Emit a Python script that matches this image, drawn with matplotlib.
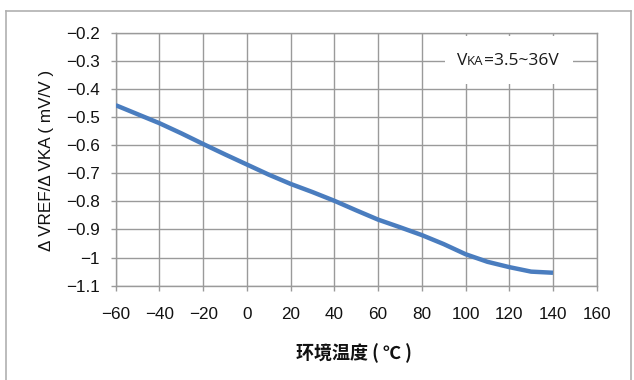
import matplotlib

matplotlib.use("Agg")
import matplotlib.pyplot as plt
import matplotlib.patches as mpatches
from matplotlib.lines import Line2D
from matplotlib.offsetbox import TextArea, HPacker, AnnotationBbox

# Reference-voltage line regulation vs ambient temperature
temp_c = [-60, -50, -40, -30, -20, -10, 0, 10, 20, 30, 40,
          50, 60, 70, 80, 90, 100, 110, 120, 130, 140]
dvref_dvka = [-0.458, -0.490, -0.522, -0.558, -0.596, -0.633, -0.669,
              -0.705, -0.738, -0.767, -0.798, -0.832, -0.865, -0.892,
              -0.920, -0.952, -0.988, -1.015, -1.034, -1.050, -1.054]

x_ticks = [-60, -40, -20, 0, 20, 40, 60, 80, 100, 120, 140, 160]
y_ticks = [-0.2, -0.3, -0.4, -0.5, -0.6, -0.7, -0.8, -0.9, -1.0, -1.1]
y_tick_labels = ["−0.2", "−0.3", "−0.4", "−0.5", "−0.6", "−0.7",
                 "−0.8", "−0.9", "−1", "−1.1"]

LINE_COLOR = "#4a7dbf"
GRID_COLOR = "#9a9a9a"
FRAME_COLOR = "#b0b0b0"
TEXT_COLOR = "#111111"


def main():
    fig = plt.figure(figsize=(6.34, 3.80), dpi=100)
    ax = fig.add_axes([0.1825, 0.2482, 0.7587, 0.6658])

    ax.plot(temp_c, dvref_dvka, color=LINE_COLOR, lw=3.2,
            solid_capstyle="butt", solid_joinstyle="round", zorder=5)

    ax.set_xlim(-60, 160)
    ax.set_ylim(-1.1, -0.2)
    ax.set_xticks(x_ticks)
    ax.set_xticklabels([str(t).replace("-", "−") for t in x_ticks])
    ax.set_yticks(y_ticks)
    ax.set_yticklabels(y_tick_labels)
    ax.grid(True, color=GRID_COLOR, lw=1.0)
    ax.set_axisbelow(True)
    for sp in ax.spines.values():
        sp.set_color(GRID_COLOR)
        sp.set_linewidth(1.0)
    ax.tick_params(axis="both", direction="out", length=3.5, width=1.0,
                   color=GRID_COLOR, labelsize=12.3, labelcolor=TEXT_COLOR)
    ax.tick_params(axis="x", pad=12)
    ax.tick_params(axis="y", pad=8)
    for lab in ax.get_xticklabels() + ax.get_yticklabels():
        lab.set_fontfamily("Liberation Sans")

    # white label box over the grid, upper right
    ax.add_patch(mpatches.Rectangle((90.6, -0.383), 58.6, 0.171,
                                    facecolor="white", edgecolor="none",
                                    zorder=3))
    big = dict(size=12.5, family="Open Sans", color="#1a1a1a")
    small = dict(size=9.5, family="Open Sans", color="#1a1a1a")
    label = HPacker(children=[TextArea("V", textprops=big),
                              TextArea("KA", textprops=small),
                              TextArea("=3.5~36V", textprops=big)],
                    align="baseline", pad=0, sep=0)
    ab = AnnotationBbox(label, (96.0, -0.3), xycoords="data",
                        box_alignment=(0, 0.5), frameon=False, pad=0)
    ab.set_zorder(6)
    ax.add_artist(ab)

    fig.text(47 / 634, 1 - 160 / 380, "Δ VREF/Δ VKA ( mV/V )",
             rotation=90, ha="center", va="center", fontsize=12.3,
             family="Liberation Sans", color=TEXT_COLOR)
    fig.text(354 / 634, 1 - 353 / 380, "环境温度 ( ℃ )",
             ha="center", va="center", fontsize=13, fontweight="bold",
             family=["Noto Sans CJK SC", "DejaVu Sans"], color=TEXT_COLOR)

    # outer frame (open at the bottom)
    fx0, fx1, fy1 = 6 / 634, 631 / 634, 1 - 11 / 380
    for xs, ys in [((fx0, fx0), (0, fy1)), ((fx0, fx1), (fy1, fy1)),
                   ((fx1, fx1), (fy1, 0))]:
        fig.add_artist(Line2D(xs, ys, color=FRAME_COLOR, lw=1.2,
                              transform=fig.transFigure))

    fig.savefig("out.png", dpi=100)
    plt.close(fig)


if __name__ == "__main__":
    main()
